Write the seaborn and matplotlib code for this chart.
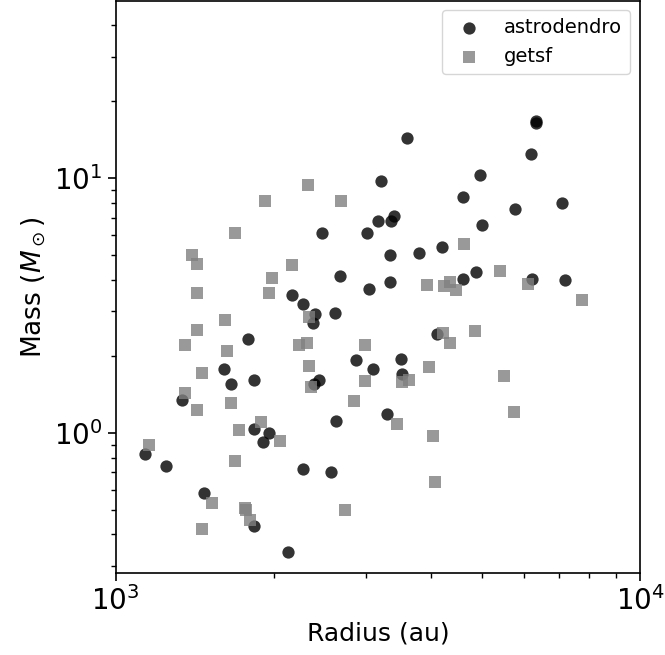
import numpy as np
import pandas as pd
import matplotlib
matplotlib.use("Agg")
import matplotlib.pyplot as plt
import matplotlib.ticker as mticker
import seaborn as sns

# astrodendro cores: radius (au), mass (Msun)
astro_radius = [2170, 1790, 1609, 1662, 1838, 1340, 1838, 1963, 1910, 1139,
                1249, 1472, 1835, 2131, 3589, 3211, 4953, 4590, 3395, 3169,
                3355, 2478, 3011, 5004, 3331, 3784, 4186, 2678, 3340, 3042,
                4603, 4873, 2279, 2403, 2378, 2620, 4095, 2873, 3100, 3501,
                3521, 2442, 2389, 2632, 3296, 2279, 2577, 6327, 6330, 6189,
                5784, 7109, 6217, 7194]
astro_mass = [3.49, 2.34, 1.78, 1.55, 1.61, 1.35, 1.04, 1.00, 0.92, 0.83,
              0.74, 0.58, 0.43, 0.34, 14.35, 9.73, 10.25, 8.45, 7.11, 6.80,
              6.76, 6.08, 6.07, 6.52, 5.00, 5.08, 5.35, 4.14, 3.90, 3.66,
              4.01, 4.28, 3.21, 2.92, 2.69, 2.96, 2.45, 1.94, 1.79, 1.96,
              1.70, 1.61, 1.55, 1.11, 1.19, 0.72, 0.70, 16.73, 16.39, 12.42,
              7.54, 7.96, 4.03, 3.97]

# getsf cores: radius (au), mass (Msun)
getsf_radius = [1929, 1686, 1400, 1427, 2172, 1989, 1427, 1963, 1618, 1427,
                1356, 1630, 2240, 2320, 1461, 1356, 1427, 1657, 1890, 1716,
                2058, 1159, 1688, 1529, 1765, 1776, 1804, 1459, 2327, 2694,
                3929, 4228, 4335, 4457, 4623, 2337, 2985, 4210, 4342, 4845,
                2340, 2989, 3521, 3626, 3964, 2361, 2852, 3436, 4029, 4070,
                2738, 5408, 6109, 7762, 5511, 5751]
getsf_mass = [8.15, 6.08, 4.98, 4.61, 4.55, 4.05, 3.55, 3.55, 2.78, 2.54,
              2.21, 2.10, 2.21, 2.25, 1.72, 1.43, 1.23, 1.31, 1.10, 1.03,
              0.93, 0.90, 0.78, 0.53, 0.51, 0.50, 0.456, 0.42, 9.39, 8.15,
              3.82, 3.78, 3.90, 3.65, 5.51, 2.85, 2.22, 2.46, 2.25, 2.52,
              1.83, 1.60, 1.58, 1.61, 1.81, 1.51, 1.34, 1.08, 0.97, 0.64,
              0.50, 4.32, 3.86, 3.32, 1.68, 1.21]

sns.set_style("ticks", {"axes.edgecolor": "black", "xtick.color": "black",
                        "ytick.color": "black", "text.color": "black",
                        "axes.labelcolor": "black"})
plt.rcParams["font.family"] = ["DejaVu Sans"]

fig = plt.figure(figsize=(6.65, 6.55), dpi=100)
ax = fig.add_axes([0.174, 0.125, 0.7884, 0.874])

sns.scatterplot(x=astro_radius, y=astro_mass, ax=ax, color="black", marker="o",
                s=78, alpha=0.8, linewidth=0, label="astrodendro")
sns.scatterplot(x=getsf_radius, y=getsf_mass, ax=ax, color="gray", marker="s",
                s=78, alpha=0.8, linewidth=0, label="getsf")

ax.set_xscale("log")
ax.set_yscale("log")
ax.set_xlim(1000, 10000)
ax.set_ylim(0.282, 49.7)
ax.xaxis.set_minor_formatter(mticker.NullFormatter())
ax.yaxis.set_minor_formatter(mticker.NullFormatter())

ax.set_xlabel("Radius (au)", fontsize=18)
ax.set_ylabel(r"Mass ($M_\odot$)", fontsize=19)
ax.tick_params(axis="both", which="major", labelsize=20, length=6, width=1.2, direction="out")
ax.tick_params(axis="both", which="minor", length=3.5, width=1.0, direction="out")
for sp in ax.spines.values():
    sp.set_linewidth(1.2)
    sp.set_visible(True)

ax.legend(loc="upper right", fontsize=14, frameon=True)

fig.savefig("out.png", dpi=100)
